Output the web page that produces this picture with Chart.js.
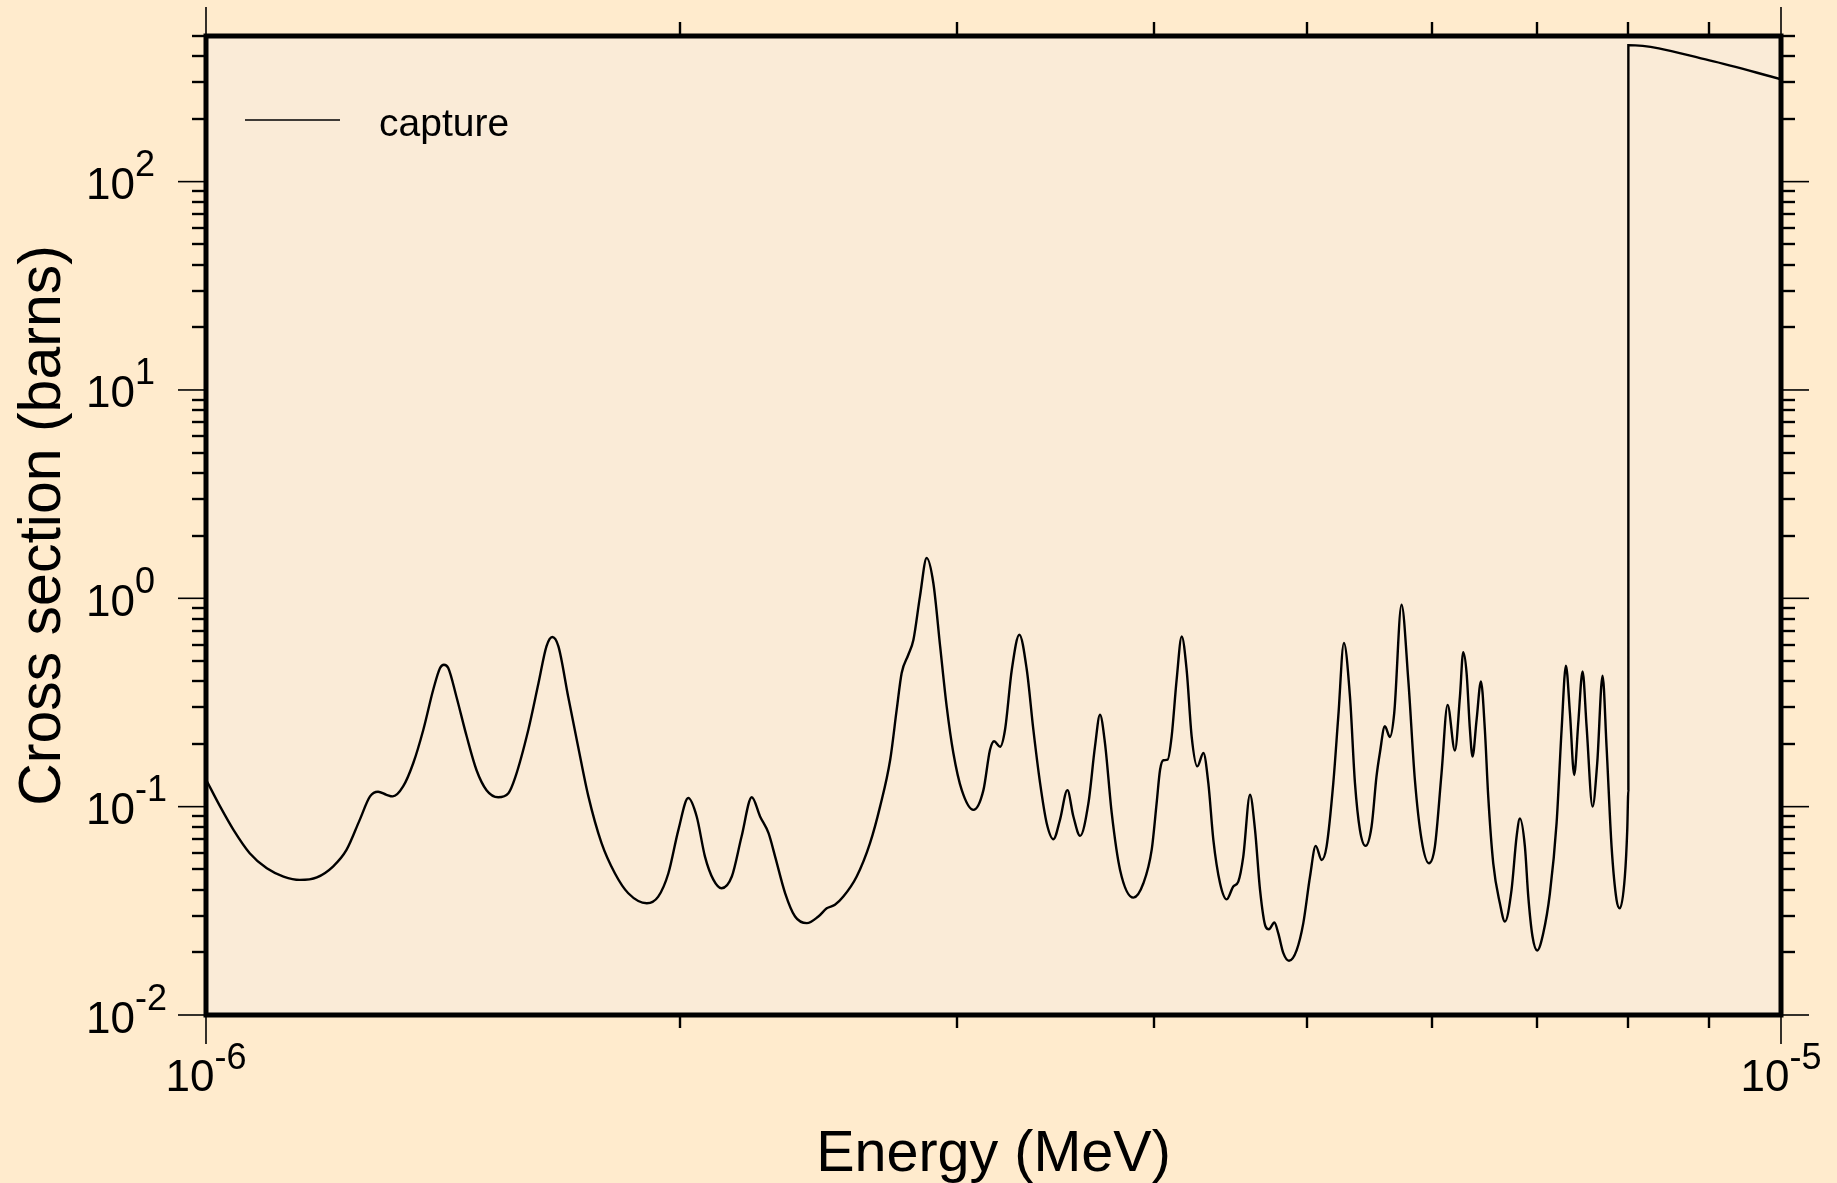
<!DOCTYPE html>
<html>
<head>
<meta charset="utf-8">
<title>Capture cross section</title>
<style>
  html, body { margin: 0; padding: 0; background: #FFEBCD; }
  #wrap { width: 1837px; height: 1183px; }
</style>
<script src="https://cdn.jsdelivr.net/npm/chart.js@4.4.1/dist/chart.umd.min.js"></script>
</head>
<body>
<div id="wrap"><canvas id="chart" width="1837" height="1183"></canvas></div>
<script>
// Incident energy (MeV) and capture cross section (barns)
const energyMeV = [
  1.000e-6, 1.021e-6, 1.041e-6, 1.066e-6, 1.093e-6, 1.120e-6, 1.147e-6, 1.176e-6, 1.204e-6, 1.228e-6,
  1.252e-6, 1.271e-6, 1.286e-6, 1.302e-6, 1.314e-6, 1.334e-6, 1.354e-6, 1.374e-6, 1.394e-6, 1.408e-6,
  1.416e-6, 1.425e-6, 1.442e-6, 1.464e-6, 1.485e-6, 1.507e-6, 1.533e-6, 1.556e-6,
  1.571e-6, 1.602e-6, 1.626e-6, 1.645e-6, 1.659e-6, 1.674e-6, 1.698e-6, 1.723e-6, 1.749e-6, 1.783e-6,
  1.818e-6, 1.854e-6, 1.905e-6, 1.937e-6, 1.966e-6, 1.995e-6, 2.024e-6, 2.049e-6, 2.074e-6, 2.100e-6,
  2.125e-6, 2.157e-6, 2.188e-6, 2.221e-6, 2.248e-6, 2.276e-6, 2.298e-6, 2.332e-6, 2.366e-6, 2.407e-6,
  2.448e-6, 2.478e-6, 2.508e-6,
  2.539e-6, 2.589e-6, 2.640e-6, 2.679e-6, 2.719e-6, 2.745e-6, 2.765e-6, 2.792e-6, 2.813e-6, 2.840e-6,
  2.868e-6, 2.896e-6, 2.925e-6, 2.953e-6, 2.982e-6, 3.019e-6, 3.071e-6, 3.116e-6, 3.146e-6, 3.165e-6,
  3.193e-6, 3.216e-6, 3.248e-6, 3.284e-6, 3.320e-6, 3.352e-6, 3.385e-6, 3.418e-6, 3.452e-6, 3.485e-6,
  3.523e-6, 3.554e-6, 3.589e-6, 3.633e-6, 3.668e-6, 3.695e-6, 3.722e-6, 3.759e-6, 3.805e-6, 3.880e-6,
  3.937e-6,
  3.985e-6, 4.014e-6, 4.034e-6, 4.054e-6, 4.079e-6, 4.103e-6, 4.133e-6, 4.164e-6, 4.194e-6, 4.225e-6,
  4.260e-6, 4.298e-6, 4.329e-6, 4.361e-6, 4.404e-6, 4.447e-6, 4.490e-6, 4.523e-6, 4.556e-6, 4.601e-6,
  4.635e-6, 4.669e-6, 4.707e-6, 4.730e-6, 4.768e-6, 4.795e-6, 4.831e-6, 4.871e-6, 4.926e-6, 4.974e-6,
  5.023e-6, 5.065e-6, 5.109e-6, 5.146e-6, 5.197e-6, 5.235e-6, 5.278e-6, 5.325e-6, 5.364e-6, 5.403e-6,
  5.448e-6, 5.496e-6, 5.536e-6, 5.563e-6, 5.604e-6, 5.645e-6, 5.681e-6, 5.742e-6, 5.799e-6, 5.855e-6,
  5.913e-6, 5.977e-6, 6.029e-6, 6.088e-6, 6.142e-6, 6.208e-6, 6.254e-6,
  6.284e-6, 6.315e-6, 6.346e-6, 6.370e-6, 6.408e-6, 6.449e-6, 6.486e-6, 6.518e-6, 6.566e-6, 6.630e-6,
  6.679e-6, 6.744e-6, 6.794e-6, 6.827e-6, 6.877e-6, 6.911e-6, 6.954e-6, 7.002e-6, 7.064e-6, 7.133e-6,
  7.203e-6, 7.256e-6, 7.302e-6, 7.345e-6, 7.391e-6, 7.435e-6, 7.482e-6, 7.526e-6, 7.592e-6, 7.644e-6,
  7.704e-6, 7.749e-6, 7.806e-6, 7.863e-6, 7.901e-6, 7.959e-6, 7.987e-6, 8.000e-6,
  8.000e-6, 9.006e-6, 1.000e-5
];

const captureBarns = [
  0.135, 0.100, 0.0774, 0.0598, 0.0506, 0.0462, 0.0445, 0.0458, 0.0516, 0.0620,
  0.0864, 0.112, 0.118, 0.114, 0.112, 0.125, 0.162, 0.234, 0.364, 0.463,
  0.480, 0.463, 0.338, 0.217, 0.150, 0.120, 0.111, 0.116,
  0.137, 0.234, 0.392, 0.588, 0.652, 0.588, 0.338, 0.194, 0.112, 0.0668,
  0.0479, 0.0384, 0.0344, 0.0370, 0.0479, 0.0774, 0.110, 0.0897, 0.0576, 0.0445,
  0.0406, 0.0462, 0.0719, 0.111, 0.0897, 0.0746, 0.0576, 0.0384, 0.0297, 0.0276,
  0.0297, 0.0325, 0.0338,
  0.0370, 0.0462, 0.0668, 0.100, 0.168, 0.292, 0.438, 0.536, 0.633, 1.022,
  1.561, 1.184, 0.588, 0.303, 0.181, 0.120, 0.0965, 0.120, 0.187, 0.206,
  0.194, 0.234, 0.454, 0.669, 0.454, 0.234, 0.130, 0.0833, 0.0698, 0.0864,
  0.120, 0.0897, 0.0724, 0.104, 0.194, 0.276, 0.202, 0.0930, 0.0497, 0.0366,
  0.0429,
  0.0620, 0.104, 0.150, 0.167, 0.168, 0.217, 0.406, 0.656, 0.454, 0.217,
  0.156, 0.181, 0.130, 0.0693, 0.0429, 0.0359, 0.0414, 0.0437, 0.0576, 0.114,
  0.0774, 0.0399, 0.0266, 0.0258, 0.0278, 0.0247, 0.0198, 0.0182, 0.0205, 0.0276,
  0.0462, 0.0648, 0.0555, 0.0643, 0.130, 0.271, 0.610, 0.338, 0.130, 0.0774,
  0.0648, 0.0803, 0.140, 0.181, 0.243, 0.216, 0.281, 0.932, 0.406, 0.135,
  0.0693, 0.0535, 0.0643, 0.145, 0.308, 0.186, 0.338,
  0.552, 0.438, 0.234, 0.174, 0.261, 0.399, 0.234, 0.112, 0.0535, 0.0344,
  0.0281, 0.0399, 0.0719, 0.0877, 0.0643, 0.0370, 0.0238, 0.0204, 0.0247, 0.0384,
  0.0833, 0.234, 0.475, 0.281, 0.142, 0.252, 0.446, 0.243, 0.100, 0.162,
  0.425, 0.194, 0.0643, 0.0357, 0.0325, 0.0462, 0.0774, 0.120,
  452, 382, 310
];

const seriesLabel = 'capture';

// Axis ranges and decade tick exponents
const xMin = 1e-6, xMax = 1e-5;
const yMin = 1e-2, yMax = 500;
const xDecadeExponents = [-6, -5];
const yDecadeExponents = [-2, -1, 0, 1, 2];

const xTitle = 'Energy (MeV)';
const yTitle = 'Cross section (barns)';

const FONT = '"Liberation Sans", Arial, Helvetica, sans-serif';
const PAGE_BG = '#FFEBCD';
const PLOT_BG = '#FAEBD7';

const points = energyMeV.map((e, i) => ({ x: e, y: captureBarns[i] }));

function pow10(e) { return Number('1e' + e); }

// Minor tick values: 2..9 times each decade, kept inside the axis range
function minorValues(exps, lo, hi) {
  const out = [];
  for (const e of exps) {
    for (let m = 2; m <= 9; m++) {
      const v = m * pow10(e);
      if (v > lo && v <= hi * 1.0000001) out.push(v);
    }
  }
  return out;
}

function drawPower(ctx, exp, x, baseline, align, bigSize, smallSize, raise) {
  const base = '10', sup = String(exp);
  ctx.font = bigSize + 'px ' + FONT;
  const w1 = ctx.measureText(base).width;
  ctx.font = smallSize + 'px ' + FONT;
  const w2 = ctx.measureText(sup).width;
  const total = w1 + w2;
  let x0 = x;
  if (align === 'center') x0 = x - total / 2;
  ctx.textAlign = 'left';
  ctx.textBaseline = 'alphabetic';
  ctx.font = bigSize + 'px ' + FONT;
  ctx.fillText(base, x0, baseline);
  ctx.font = smallSize + 'px ' + FONT;
  ctx.fillText(sup, x0 + w1, baseline - raise);
}

const framePlugin = {
  id: 'frameAndAxes',
  beforeDraw(chart) {
    const { ctx, chartArea: a } = chart;
    ctx.save();
    ctx.fillStyle = PAGE_BG;
    ctx.fillRect(0, 0, chart.width, chart.height);
    ctx.fillStyle = PLOT_BG;
    ctx.fillRect(a.left, a.top, a.right - a.left, a.bottom - a.top);
    ctx.restore();
  },
  afterDraw(chart) {
    const { ctx, chartArea: a } = chart;
    const xs = chart.scales.x, ys = chart.scales.y;
    ctx.save();
    ctx.strokeStyle = '#000';
    ctx.fillStyle = '#000';
    ctx.lineCap = 'butt';
    const seg = (x1, y1, x2, y2, w) => {
      ctx.lineWidth = w;
      ctx.beginPath();
      ctx.moveTo(x1, y1);
      ctx.lineTo(x2, y2);
      ctx.stroke();
    };

    // energy axis ticks, bottom and top
    for (const v of minorValues(xDecadeExponents.slice(0, -1), xMin, xMax)) {
      const px = Math.round(xs.getPixelForValue(v));
      seg(px, a.bottom, px, a.bottom + 13, 2.4);
      seg(px, a.top, px, a.top - 14, 2.4);
    }
    for (const e of xDecadeExponents) {
      const px = xs.getPixelForValue(pow10(e));
      seg(px, a.bottom, px, a.bottom + 29, 1.6);
      seg(px, a.top, px, a.top - 29, 1.6);
    }

    // cross-section axis ticks, left and right
    for (const v of minorValues(yDecadeExponents, yMin, yMax)) {
      const py = Math.round(ys.getPixelForValue(v));
      seg(a.left - 14, py, a.left, py, 2.4);
      seg(a.right, py, a.right + 14, py, 2.4);
    }
    for (const e of yDecadeExponents) {
      const py = ys.getPixelForValue(pow10(e));
      seg(a.left - 28, py, a.left, py, 1.6);
      seg(a.right, py, a.right + 28, py, 1.6);
    }

    // plot frame
    ctx.lineWidth = 5;
    ctx.strokeRect(a.left, a.top, a.right - a.left, a.bottom - a.top);

    // tick labels as powers of ten
    for (const e of xDecadeExponents) {
      const px = xs.getPixelForValue(pow10(e));
      drawPower(ctx, e, px, 1091, 'center', 44, 36, 22);
    }
    for (const e of yDecadeExponents) {
      const py = ys.getPixelForValue(pow10(e));
      drawPower(ctx, e, 86, py + 17.5, 'left', 44, 36, 23);
    }

    // axis titles
    ctx.font = '57.5px ' + FONT;
    ctx.textAlign = 'center';
    ctx.textBaseline = 'alphabetic';
    ctx.fillText(xTitle, (a.left + a.right) / 2, 1171);
    ctx.save();
    ctx.translate(60, (a.top + a.bottom) / 2);
    ctx.rotate(-Math.PI / 2);
    ctx.font = '59px ' + FONT;
    ctx.fillText(yTitle, 0, 0);
    ctx.restore();

    // legend
    const ds = chart.data.datasets[0];
    seg(a.left + 39, a.top + 84, a.left + 134, a.top + 84, 1.5);
    ctx.font = '39px ' + FONT;
    ctx.textAlign = 'left';
    ctx.fillText(ds.label, a.left + 173, a.top + 100);

    ctx.restore();
  }
};

new Chart(document.getElementById('chart'), {
  type: 'line',
  data: {
    datasets: [{
      label: seriesLabel,
      data: points,
      borderColor: '#000',
      borderWidth: 2.4,
      pointRadius: 0,
      fill: false,
      cubicInterpolationMode: 'monotone'
    }]
  },
  options: {
    responsive: false,
    animation: false,
    devicePixelRatio: 1,
    layout: { padding: { top: 36, right: 56, left: 0, bottom: 0 } },
    plugins: { legend: { display: false }, tooltip: { enabled: false } },
    scales: {
      x: {
        type: 'logarithmic',
        position: 'bottom',
        min: xMin, max: xMax,
        bounds: 'data',
        ticks: { display: false },
        grid: { display: false },
        border: { display: false },
        afterFit: s => { s.height = 168; }
      },
      y: {
        type: 'logarithmic',
        position: 'left',
        min: yMin, max: yMax,
        bounds: 'data',
        ticks: { display: false },
        grid: { display: false },
        border: { display: false },
        afterFit: s => { s.width = 206; }
      }
    }
  },
  plugins: [framePlugin]
});
</script>
</body>
</html>
